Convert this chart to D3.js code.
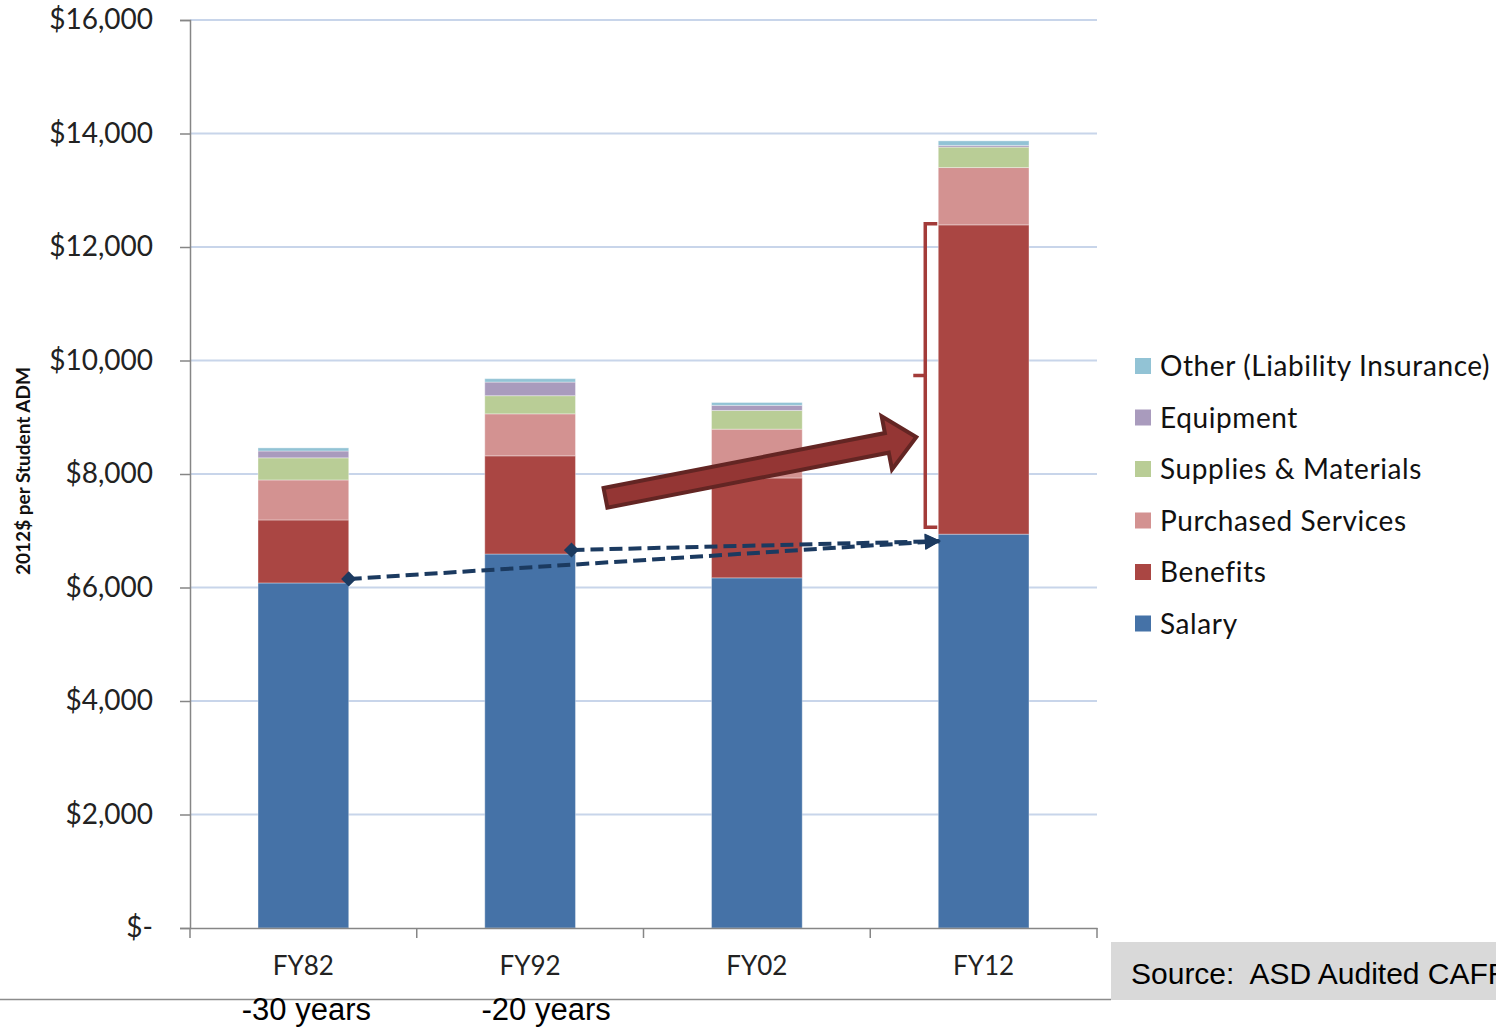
<!DOCTYPE html>
<html>
<head>
<meta charset="utf-8">
<script src="https://cdn.jsdelivr.net/npm/d3@7"></script>
<style>
  body { margin: 0; background: #fff; }
  svg { display: block; }
</style>
</head>
<body>
<svg id="main-svg" width="1496" height="1027"></svg>
<script>
// ----- //
// data (2012$ per student ADM)
// ----- //
const years = ["FY82", "FY92", "FY02", "FY12"];
const yearNotes = ["-30 years", "-20 years", "", ""];
const categories = ["Salary", "Benefits", "Purchased Services", "Supplies & Materials", "Equipment", "Other (Liability Insurance)"];
const colors = ["#4572a7", "#aa4643", "#d39291", "#b9cd96", "#a99bbd", "#92c3d5"];
const salary     = [6080, 6590, 6170, 6940];
const benefits   = [1110, 1730, 1760, 5450];
const purchased  = [705, 740, 860, 1010];
const supplies   = [390, 320, 330, 360];
const equipment  = [120, 240, 90, 30];
const other      = [55, 60, 50, 80];
const yTicks = [0, 2000, 4000, 6000, 8000, 10000, 12000, 14000, 16000];

// ----- //
// setup
// ----- //
const svg = d3.select("#main-svg");
const plotLeft = 190, plotRight = 1097, plotTop = 20, plotBottom = 928;

const series = [salary, benefits, purchased, supplies, equipment, other];
const rows = years.map((yr, i) => {
    const r = { year: yr };
    categories.forEach((c, k) => { r[c] = series[k][i]; });
    return r;
});
const stacked = d3.stack().keys(categories)(rows);

const x = d3.scaleBand().domain(years).range([plotLeft, plotRight]).paddingInner(0.6).paddingOuter(0.3);
const y = d3.scaleLinear().domain([0, 16000]).range([plotBottom, plotTop]);
const color = d3.scaleOrdinal().domain(categories).range(colors);
const bw = x.bandwidth();

// gridlines
svg.append("g")
    .selectAll("line")
    .data(yTicks.filter(d => d > 0))
    .enter().append("line")
    .attr("x1", plotLeft).attr("x2", plotRight)
    .attr("y1", d => y(d)).attr("y2", d => y(d))
    .attr("stroke", "#c8d5ea")
    .attr("stroke-width", 2);

// bars
svg.append("g")
    .selectAll("g")
    .data(stacked)
    .enter().append("g")
    .attr("fill", d => color(d.key))
    .selectAll("rect")
    .data(d => d)
    .enter().append("rect")
    .attr("x", d => x(d.data.year))
    .attr("y", d => y(d[1]))
    .attr("width", bw)
    .attr("height", d => y(d[0]) - y(d[1]))
    .attr("stroke", "rgba(255,255,255,0.35)")
    .attr("stroke-width", 1);

// y axis
const yAxis = svg.append("g")
    .attr("transform", `translate(${plotLeft},0)`)
    .call(d3.axisLeft(y)
        .tickValues(yTicks)
        .tickSize(10)
        .tickPadding(27)
        .tickFormat(d => d === 0 ? "$-" : "$" + d3.format(",")(d)));
yAxis.select(".domain").attr("stroke", "#868686").attr("stroke-width", 1.5);
yAxis.selectAll(".tick line").attr("stroke", "#868686").attr("stroke-width", 1.5);
yAxis.selectAll(".tick text")
    .attr("fill", "#222")
    .style("font-family", "Lato, 'Open Sans', sans-serif")
    .style("font-size", "28px");

// x axis
const xAxis = svg.append("g")
    .attr("transform", `translate(0,${plotBottom})`)
    .call(d3.axisBottom(x).tickSize(0).tickPadding(29));
xAxis.select(".domain").attr("stroke", "#868686").attr("stroke-width", 1.5);
xAxis.selectAll(".tick text")
    .attr("fill", "#222")
    .style("font-family", "Lato, 'Open Sans', sans-serif")
    .style("font-size", "26px");
// category boundary ticks
xAxis.selectAll(".bound")
    .data(d3.range(years.length + 1))
    .enter().append("line")
    .attr("x1", i => plotLeft + i * x.step()).attr("x2", i => plotLeft + i * x.step())
    .attr("y1", 0).attr("y2", 10)
    .attr("stroke", "#868686").attr("stroke-width", 1.5);

// y axis title
svg.append("text")
    .attr("transform", `translate(30,471) rotate(-90)`)
    .attr("text-anchor", "middle")
    .style("font-family", "Lato, 'Open Sans', sans-serif")
    .style("font-weight", "bold")
    .style("font-size", "19px")
    .attr("fill", "#111")
    .text("2012$ per Student ADM");

// ----- //
// legend
// ----- //
const legend = svg.append("g").attr("transform", "translate(1135,366)");
const legendItems = legend.selectAll("g")
    .data(categories.slice().reverse())
    .enter().append("g")
    .attr("transform", (d, i) => `translate(0,${i * 51.5})`);
legendItems.append("rect")
    .attr("x", 0).attr("y", -8).attr("width", 16).attr("height", 16)
    .attr("fill", d => color(d));
legendItems.append("text")
    .attr("x", 25).attr("y", 10)
    .style("font-family", "Lato, 'Open Sans', sans-serif")
    .style("font-size", "28px")
    .style("letter-spacing", "0.6px")
    .attr("fill", "#111")
    .text(d => d);

// ----- //
// annotations
// ----- //
const defs = svg.append("defs");
defs.append("marker")
    .attr("id", "tri")
    .attr("viewBox", "0 0 10 10")
    .attr("refX", 9).attr("refY", 5)
    .attr("markerWidth", 4.5).attr("markerHeight", 4)
    .attr("markerUnits", "strokeWidth")
    .attr("orient", "auto")
    .append("path").attr("d", "M0,0L10,5L0,10Z").attr("fill", "#1b3a60");
defs.append("marker")
    .attr("id", "dia")
    .attr("viewBox", "0 0 10 10")
    .attr("refX", 5).attr("refY", 5)
    .attr("markerWidth", 3.8).attr("markerHeight", 3.8)
    .attr("markerUnits", "strokeWidth")
    .attr("orient", 0)
    .append("path").attr("d", "M5,0L10,5L5,10L0,5Z").attr("fill", "#1b3a60");

// salary trend lines from FY82 and FY92 to FY12
const endPt = [x("FY12") + 1, y(salary[3]) + 7];
[0, 1].forEach(i => {
    const sx = i === 0 ? x(years[i]) + bw : x(years[i]) + bw - 4;
    svg.append("line")
        .attr("x1", sx).attr("y1", y(salary[i]) - 4)
        .attr("x2", endPt[0]).attr("y2", endPt[1])
        .attr("stroke", "#1b3a60")
        .attr("stroke-width", 4)
        .attr("stroke-dasharray", "13,6")
        .attr("marker-start", "url(#dia)")
        .attr("marker-end", "url(#tri)");
});

// big block arrow toward FY12 benefits
const a0 = [x("FY92") + bw + 30, y(7580)];
const a1 = [x("FY12") - 22, y(8650)];
const len = Math.hypot(a1[0] - a0[0], a1[1] - a0[1]);
const ang = Math.atan2(a1[1] - a0[1], a1[0] - a0[0]) * 180 / Math.PI;
const sh = 10, hh = 27, hl = 30;
svg.append("path")
    .attr("transform", `translate(${a0[0]},${a0[1]}) rotate(${ang})`)
    .attr("d", `M0,${-sh}L${len - hl},${-sh}L${len - hl},${-hh}L${len},0L${len - hl},${hh}L${len - hl},${sh}L0,${sh}Z`)
    .attr("fill", "#943634")
    .attr("stroke", "#632523")
    .attr("stroke-width", 4)
    .attr("stroke-linejoin", "miter");

// bracket around FY12 benefits
const bx = x("FY12") - 13;
const bTop = y(salary[3] + benefits[3]) - 1;
const bBot = y(salary[3]) - 7;
const bMid = (bTop + bBot) / 2;
svg.append("path")
    .attr("d", `M${bx + 12},${bTop}L${bx},${bTop}L${bx},${bBot}L${bx + 12},${bBot}M${bx},${bMid}L${bx - 12},${bMid}`)
    .attr("fill", "none")
    .attr("stroke", "#a33b39")
    .attr("stroke-width", 3.5);

// ----- //
// slide footer
// ----- //
svg.append("line")
    .attr("x1", 0).attr("x2", 1111)
    .attr("y1", 999.5).attr("y2", 999.5)
    .attr("stroke", "#8c8c8c").attr("stroke-width", 1.5);

svg.append("g")
    .selectAll("text")
    .data(years.map((d, i) => ({ year: d, note: yearNotes[i] })).filter(d => d.note))
    .enter().append("text")
    .attr("x", (d, i) => x(d.year) + bw / 2 + (i === 0 ? 3 : 16))
    .attr("y", 1020)
    .attr("text-anchor", "middle")
    .style("font-family", "'Liberation Sans', Arial, sans-serif")
    .style("font-size", "31px")
    .attr("fill", "#000")
    .text(d => d.note);

svg.append("rect")
    .attr("x", 1111).attr("y", 942)
    .attr("width", 400).attr("height", 58)
    .attr("fill", "#d9d9d9");
svg.append("text")
    .attr("x", 1131).attr("y", 984)
    .style("font-family", "'Liberation Sans', Arial, sans-serif")
    .style("font-size", "30px")
    .attr("fill", "#000")
    .attr("xml:space", "preserve")
    .text("Source:  ASD Audited CAFR");
</script>
</body>
</html>
